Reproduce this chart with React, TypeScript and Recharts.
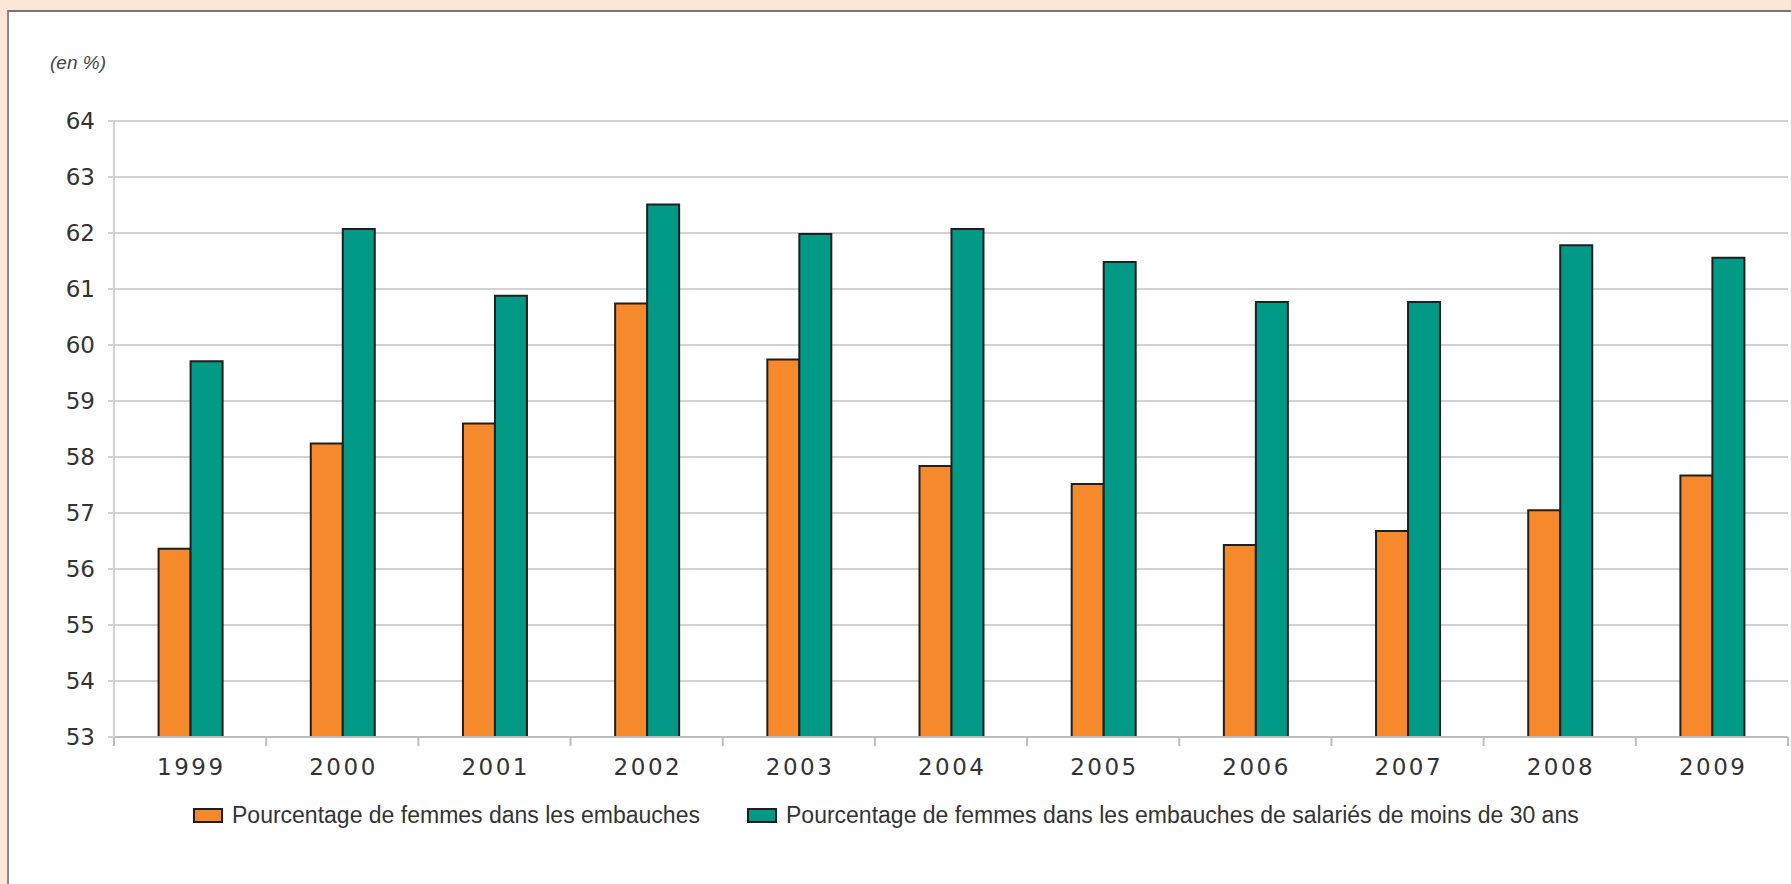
import React from 'react';
import { BarChart, Bar, XAxis, YAxis, CartesianGrid, Legend } from 'recharts';

const years = ['1999', '2000', '2001', '2002', '2003', '2004', '2005', '2006', '2007', '2008', '2009'];
const femmesEmbauches = [56.36, 58.24, 58.6, 60.74, 59.74, 57.84, 57.52, 56.43, 56.68, 57.05, 57.67];
const femmesMoins30 = [59.71, 62.07, 60.88, 62.51, 61.98, 62.07, 61.48, 60.77, 60.77, 61.78, 61.56];
const yTicks = [53, 54, 55, 56, 57, 58, 59, 60, 61, 62, 63, 64];
const seriesNames = [
  'Pourcentage de femmes dans les embauches',
  'Pourcentage de femmes dans les embauches de salariés de moins de 30 ans',
];
const unitLabel = '(en %)';

const ORANGE = '#F5892C';
const TEAL = '#009A86';
const STROKE = '#1f1f1f';
const TEXT = '#333333';
const GRID = '#d2d2d2';

const data = years.map((year, i) => ({
  year,
  embauches: femmesEmbauches[i],
  moins30: femmesMoins30[i],
}));

const CHART_W = 1791;
const CHART_H = 884;
const Y_AXIS_W = 60;
const MARGIN = { top: 121, right: 3, bottom: 107, left: 54 };

function YearTick(props: any) {
  const { x, y, payload, index, visibleTicksCount } = props;
  const fallbackHalf = (CHART_W - MARGIN.left - Y_AXIS_W - MARGIN.right) / years.length / 2;
  const half = payload && typeof payload.offset === 'number' && payload.offset > 0 ? payload.offset : fallbackHalf;
  const count = typeof visibleTicksCount === 'number' ? visibleTicksCount : years.length;
  return (
    <g>
      <line x1={x - half} x2={x - half} y1={y} y2={y + 9} stroke="#bdbdbd" strokeWidth={2} />
      {index === count - 1 && (
        <line x1={x + half} x2={x + half} y1={y} y2={y + 9} stroke="#bdbdbd" strokeWidth={2} />
      )}
      <text
        x={x}
        y={y + 38}
        dx={1.25}
        textAnchor="middle"
        fontFamily="DejaVu Sans"
        fontSize={23}
        letterSpacing={2.5}
        fill={TEXT}
      >
        {payload.value}
      </text>
    </g>
  );
}

const legendItems = [
  { label: seriesNames[0], color: ORANGE, left: 0 },
  { label: seriesNames[1], color: TEAL, left: 554 },
];

function LegendContent() {
  return (
    <div style={{ position: 'relative', width: 1500, height: 26 }}>
      {legendItems.map((it) => (
        <div
          key={it.label}
          style={{ position: 'absolute', left: it.left, top: 0, height: 26, display: 'flex', alignItems: 'center' }}
        >
          <span
            style={{
              display: 'inline-block',
              width: 30,
              height: 15,
              boxSizing: 'border-box',
              border: `2px solid ${STROKE}`,
              background: it.color,
              marginRight: 9,
            }}
          />
          <span
            style={{
              fontFamily: '"Liberation Sans", Arial, sans-serif',
              fontSize: 23,
              color: TEXT,
              whiteSpace: 'nowrap',
              lineHeight: '26px',
            }}
          >
            {it.label}
          </span>
        </div>
      ))}
    </div>
  );
}

export default function App() {
  return (
    <div
      style={{
        position: 'absolute',
        left: 0,
        top: 0,
        width: CHART_W,
        height: CHART_H,
        background: '#fce7d8',
        overflow: 'hidden',
      }}
    >
      <div
        style={{
          position: 'absolute',
          left: 7,
          top: 10,
          width: 1820,
          height: 920,
          background: '#ffffff',
          borderTop: '2px solid #767676',
          borderLeft: '2px solid #8a8a8a',
        }}
      />
      <div
        style={{
          position: 'absolute',
          left: 50,
          top: 52,
          fontFamily: '"Liberation Sans", Arial, sans-serif',
          fontStyle: 'italic',
          fontSize: 19,
          color: '#444',
        }}
      >
        {unitLabel}
      </div>
      <div style={{ position: 'absolute', left: 0, top: 0 }}>
        <BarChart
          width={CHART_W}
          height={CHART_H}
          data={data}
          margin={MARGIN}
          barCategoryGap="29.3%"
          barGap={0}
        >
          <CartesianGrid vertical={false} stroke={GRID} strokeWidth={2} />
          <XAxis
            dataKey="year"
            interval={0}
            height={40}
            tickLine={false}
            tickSize={0}
            tickMargin={0}
            axisLine={{ stroke: '#bdbdbd', strokeWidth: 2 }}
            tick={<YearTick />}
          />
          <YAxis
            width={Y_AXIS_W}
            domain={[53, 64]}
            ticks={yTicks}
            interval={0}
            tickSize={6}
            tickMargin={13}
            tickLine={{ stroke: GRID, strokeWidth: 2 }}
            axisLine={{ stroke: GRID, strokeWidth: 2 }}
            tick={{ fontFamily: 'DejaVu Sans', fontSize: 23, fill: TEXT }}
          />
          <Legend
            verticalAlign="middle"
            align="center"
            layout="horizontal"
            wrapperStyle={{ position: 'absolute', left: 193, top: 802, width: 1500, height: 26 }}
            content={<LegendContent />}
          />
          <Bar
            dataKey="embauches"
            name={seriesNames[0]}
            fill={ORANGE}
            stroke={STROKE}
            strokeWidth={2}
            isAnimationActive={false}
          />
          <Bar
            dataKey="moins30"
            name={seriesNames[1]}
            fill={TEAL}
            stroke={STROKE}
            strokeWidth={2}
            isAnimationActive={false}
          />
        </BarChart>
      </div>
    </div>
  );
}
